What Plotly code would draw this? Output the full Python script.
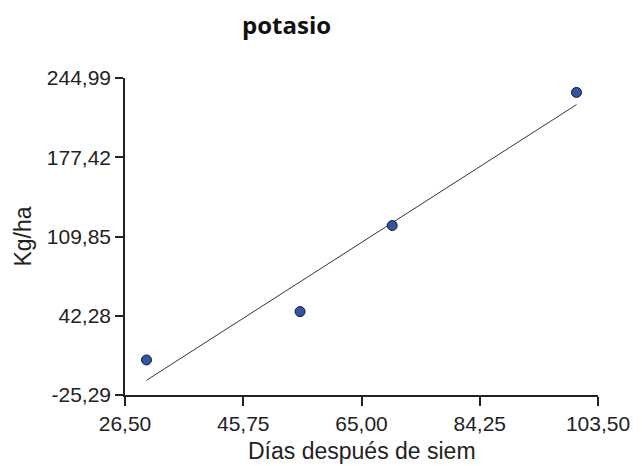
import numpy as np
import plotly.graph_objects as go

# Data
dias = [30, 55, 70, 100]
potasio_kg_ha = [4.6, 45.8, 119.2, 232.7]

x_ticks = [26.50, 45.75, 65.00, 84.25, 103.50]
y_ticks = [-25.29, 42.28, 109.85, 177.42, 244.99]


def fmt(v):
    return f"{v:.2f}".replace(".", ",")


# Linear regression line from the data
slope, intercept = np.polyfit(dias, potasio_kg_ha, 1)
fit_x = [min(dias), max(dias)]
fit_y = [slope * v + intercept for v in fit_x]

W, H = 642, 466
L, R, T, B = 125, 34, 78, 71
pw, ph = W - L - R, H - T - B

fig = go.Figure()
fig.add_trace(go.Scatter(
    x=fit_x, y=fit_y, mode="lines",
    line=dict(color="#333333", width=1),
    hoverinfo="skip", showlegend=False,
))
fig.add_trace(go.Scatter(
    x=dias, y=potasio_kg_ha, mode="markers",
    marker=dict(size=10, color="#2F55A4", line=dict(color="#1a1a2e", width=1)),
    showlegend=False,
))

fig.update_layout(
    width=W, height=H,
    margin=dict(l=L, r=R, t=T, b=B),
    paper_bgcolor="white", plot_bgcolor="white",
    font=dict(family="Liberation Sans, Arial, sans-serif", color="#222222", size=20),
    annotations=[
        dict(
            text="<b>potasio</b>",
            x=(290 - L) / pw, y=1 + (T - 25) / ph,
            xref="paper", yref="paper", xanchor="center", yanchor="middle",
            showarrow=False,
            font=dict(size=24, family="Open Sans, sans-serif", color="#111111"),
        ),
        dict(
            text="Días después de siem",
            x=0.5, y=-(451 - (H - B)) / ph,
            xref="paper", yref="paper", xanchor="center", yanchor="middle",
            showarrow=False,
            font=dict(size=23, family="Liberation Sans, Arial, sans-serif", color="#222222"),
        ),
    ],
)

fig.update_xaxes(
    range=[26.5, 103.5], tickmode="array", tickvals=x_ticks,
    ticktext=[fmt(v) for v in x_ticks],
    showline=True, linecolor="#222222", linewidth=1.5,
    ticks="outside", ticklen=9, tickcolor="#222222", tickwidth=1.5,
    showgrid=False, zeroline=False,
    tickfont=dict(size=21),
)
fig.update_yaxes(
    range=[-25.29, 244.99], tickmode="array", tickvals=y_ticks,
    ticktext=[fmt(v) for v in y_ticks],
    showline=True, linecolor="#222222", linewidth=1.5,
    ticks="outside", ticklen=8, tickcolor="#222222", tickwidth=1.5,
    showgrid=False, zeroline=False,
    title=dict(text="Kg/ha", font=dict(size=23), standoff=9),
    tickfont=dict(size=21),
)

fig.write_html(
    "out.html",
    config={"displayModeBar": False},
    post_script="document.body.style.margin='0';document.body.style.overflow='hidden';",
)
